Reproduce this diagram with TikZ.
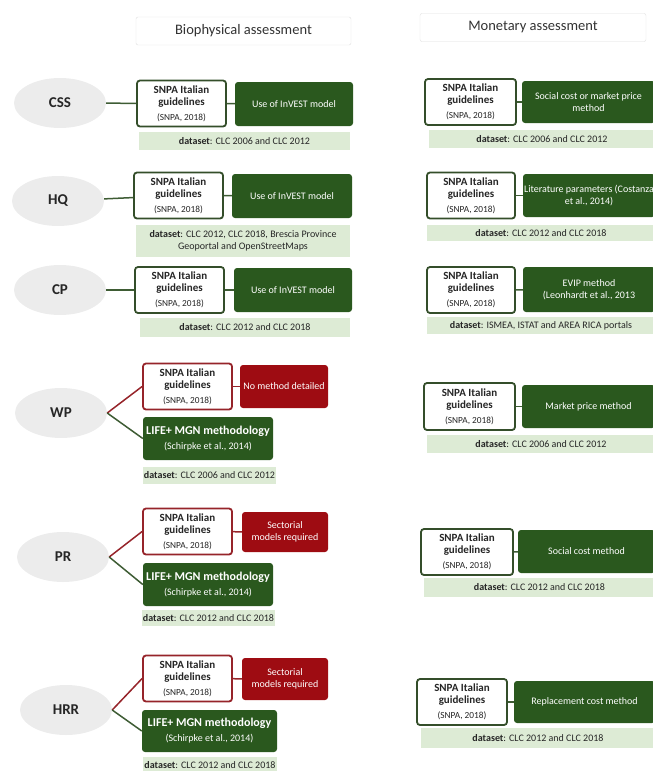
\documentclass[tikz,border=0pt]{standalone}
\usepackage{fontspec}
\setmainfont{Carlito}
\usetikzlibrary{shapes.geometric}
\definecolor{dkgreen}{RGB}{42,88,30}
\definecolor{bdgreen}{RGB}{52,78,42}
\definecolor{lngreen}{RGB}{62,92,52}
\definecolor{ltgreen}{RGB}{221,235,213}
\definecolor{dkred}{RGB}{158,12,18}
\definecolor{bdred}{RGB}{150,36,42}
\definecolor{ellgray}{RGB}{236,236,236}
\begin{document}
\begin{tikzpicture}[x=1pt,y=-1pt,
    hdr/.style={shape=rectangle,draw=black!12,fill=white,rounded corners=2pt,minimum height=28pt,font=\fontsize{14.5}{16}\selectfont,text=black!80},
    es/.style={shape=ellipse,fill=ellgray,minimum width=92pt,minimum height=50pt,font=\fontsize{15}{17}\selectfont\bfseries,text=black!85},
    snpa/.style={shape=rectangle,draw=bdgreen,line width=1.8pt,fill=white,rounded corners=3pt,minimum width=89pt,minimum height=46pt,inner sep=1pt,align=center,font=\fontsize{11}{12}\selectfont,text=black!85},
    snpared/.style={snpa,draw=bdred},
    gbox/.style={shape=rectangle,fill=dkgreen,text=white,rounded corners=3pt,minimum height=44pt,inner sep=1pt,align=center,font=\fontsize{10}{12}\selectfont},
    rbox/.style={gbox,fill=dkred},
    data/.style={shape=rectangle,fill=ltgreen,inner sep=1pt,align=center,font=\fontsize{10}{11.5}\selectfont,text=black!85},
    lnk/.style={draw=lngreen,line width=1.5pt},
    lnkred/.style={draw=bdred,line width=1.5pt}]
\useasboundingbox (0,0) rectangle (653,771);

\newcommand{\snpatext}{\textbf{SNPA Italian}\\ \textbf{guidelines}\\[3pt] {\fontsize{9.3}{10}\selectfont (SNPA, 2018)}}
\newcommand{\lifetext}{{\fontsize{12}{14}\selectfont\textbf{LIFE+ MGN methodology}}\\[3pt] {\fontsize{10}{12}\selectfont (Schirpke et al., 2014)}}

% headers
\node[hdr,minimum width=215pt] (bio) at (243.5,31) {Biophysical assessment};
\node[hdr,minimum width=226pt] (mon) at (533,27.5) {Monetary assessment};

% services
\node[es] (css) at (60,103) {CSS};
\node[es] (hq) at (58,201) {HQ};
\node[es] (cp) at (60,290) {CP};
\node[es] (wp) at (61,413) {WP};
\node[es] (pr) at (63,557) {PR};
\node[es] (hrr) at (66,710) {HRR};

% biophysical column
\node[snpa] (css-b) at (181.5,103.5) {\snpatext};
\node[gbox,minimum width=118pt] (css-bm) at (294,104) {Use of InVEST model};
\node[data,minimum width=211pt,minimum height=18pt] (css-bd) at (244.5,141) {\textbf{dataset}: CLC 2006 and CLC 2012};

\node[snpa] (hq-b) at (178.5,195.5) {\snpatext};
\node[gbox,minimum width=120pt] (hq-bm) at (292,196) {Use of InVEST model};
\node[data,minimum width=214pt,minimum height=32pt] (hq-bd) at (243,241) {\textbf{dataset}: CLC 2012, CLC 2018, Brescia Province\\Geoportal and OpenStreetMaps};

\node[snpa] (cp-b) at (179.5,290) {\snpatext};
\node[gbox,minimum width=118pt] (cp-bm) at (293,290) {Use of InVEST model};
\node[data,minimum width=210pt,minimum height=19pt] (cp-bd) at (245,327.5) {\textbf{dataset}: CLC 2012 and CLC 2018};

\node[snpared] (wp-b) at (187.5,386.5) {\snpatext};
\node[rbox,minimum width=88pt,minimum height=43pt] (wp-bm) at (284,386.5) {No method detailed};
\node[gbox,minimum width=130pt,minimum height=43pt] (wp-l) at (208,438.5) {\lifetext};
\node[data,minimum width=133pt,minimum height=17pt] (wp-bd) at (209.5,475) {\textbf{dataset}: CLC 2006 and CLC 2012};

\node[snpared] (pr-b) at (187.5,531.5) {\snpatext};
\node[rbox,minimum width=86pt,minimum height=40pt] (pr-bm) at (285,532) {Sectorial\\models required};
\node[gbox,minimum width=130pt,minimum height=43pt] (pr-l) at (208,584.5) {\lifetext};
\node[data,minimum width=130pt,minimum height=16pt] (pr-bd) at (208.5,618) {\textbf{dataset}: CLC 2012 and CLC 2018};

\node[snpared] (hrr-b) at (187.5,678.5) {\snpatext};
\node[rbox,minimum width=86pt,minimum height=42pt] (hrr-bm) at (285,679) {Sectorial\\models required};
\node[gbox,minimum width=135pt,minimum height=42pt] (hrr-l) at (209.5,731) {\lifetext};
\node[data,minimum width=134pt,minimum height=16pt] (hrr-bd) at (210,765) {\textbf{dataset}: CLC 2012 and CLC 2018};

% monetary column
\node[snpa,minimum width=91pt] (css-m) at (470.5,102) {\snpatext};
\node[gbox,minimum width=133pt,minimum height=42pt] (css-mm) at (588.5,102) {Social cost or market price\\method};
\node[data,minimum width=226pt,minimum height=18pt] (css-md) at (542,139) {\textbf{dataset}: CLC 2006 and CLC 2012};

\node[snpa,minimum width=88pt] (hq-m) at (471,195.5) {\snpatext};
\node[gbox,minimum width=132pt,minimum height=43pt] (hq-mm) at (589,195.5) {Literature parameters (Costanza\\et al., 2014)};
\node[data,minimum width=228pt,minimum height=16pt] (hq-md) at (541,233) {\textbf{dataset}: CLC 2012 and CLC 2018};

\node[snpa,minimum width=88pt] (cp-m) at (471,290) {\snpatext};
\node[gbox,minimum width=132pt,minimum height=45pt] (cp-mm) at (589,289.5) {EVIP method\\(Leonhardt et al., 2013};
\node[data,minimum width=228pt,minimum height=17pt] (cp-md) at (541,325.5) {\textbf{dataset}: ISMEA, ISTAT and AREA RICA portals};

\node[snpa,minimum width=91pt,minimum height=47pt] (wp-m) at (469.5,406.5) {\snpatext};
\node[gbox,minimum width=133pt,minimum height=43pt] (wp-mm) at (588.5,406.5) {Market price method};
\node[data,minimum width=228pt,minimum height=18pt] (wp-md) at (541,444) {\textbf{dataset}: CLC 2006 and CLC 2012};

\node[snpa,minimum width=92pt] (pr-m) at (467,552) {\snpatext};
\node[gbox,minimum width=137pt,minimum height=43pt] (pr-mm) at (586.5,551.5) {Social cost method};
\node[data,minimum width=231pt,minimum height=19pt] (pr-md) at (539.5,587.5) {\textbf{dataset}: CLC 2012 and CLC 2018};

\node[snpa,minimum width=90pt] (hrr-m) at (462,702) {\snpatext};
\node[gbox,minimum width=141pt,minimum height=42pt] (hrr-mm) at (584.5,702) {Replacement cost method};
\node[data,minimum width=234pt,minimum height=20pt] (hrr-md) at (538,738) {\textbf{dataset}: CLC 2012 and CLC 2018};

% links
\path (css) edge[lnk] (css-b);
\path (css-b) edge[lnk] (css-bm);
\path (hq) edge[lnk] (hq-b);
\path (hq-b) edge[lnk] (hq-bm);
\path (cp) edge[lnk] (cp-b);
\path (cp-b) edge[lnk] (cp-bm);

\path (wp.east) edge[lnkred] (wp-b.west);
\path (wp.east) edge[lnk] (wp-l.west);
\path (wp-b) edge[lnkred] (wp-bm);
\path (pr.east) edge[lnkred] (pr-b.west);
\path (pr.east) edge[lnk] (pr-l.west);
\path (pr-b) edge[lnkred] (pr-bm);
\path (hrr.east) edge[lnkred] (hrr-b.west);
\path (hrr.east) edge[lnk] (hrr-l.west);
\path (hrr-b) edge[lnkred] (hrr-bm);

\path (css-m) edge[lnk] (css-mm);
\path (hq-m) edge[lnk] (hq-mm);
\path (cp-m) edge[lnk] (cp-mm);
\path (wp-m) edge[lnk] (wp-mm);
\path (pr-m) edge[lnk] (pr-mm);
\path (hrr-m) edge[lnk] (hrr-mm);
\end{tikzpicture}
\end{document}
